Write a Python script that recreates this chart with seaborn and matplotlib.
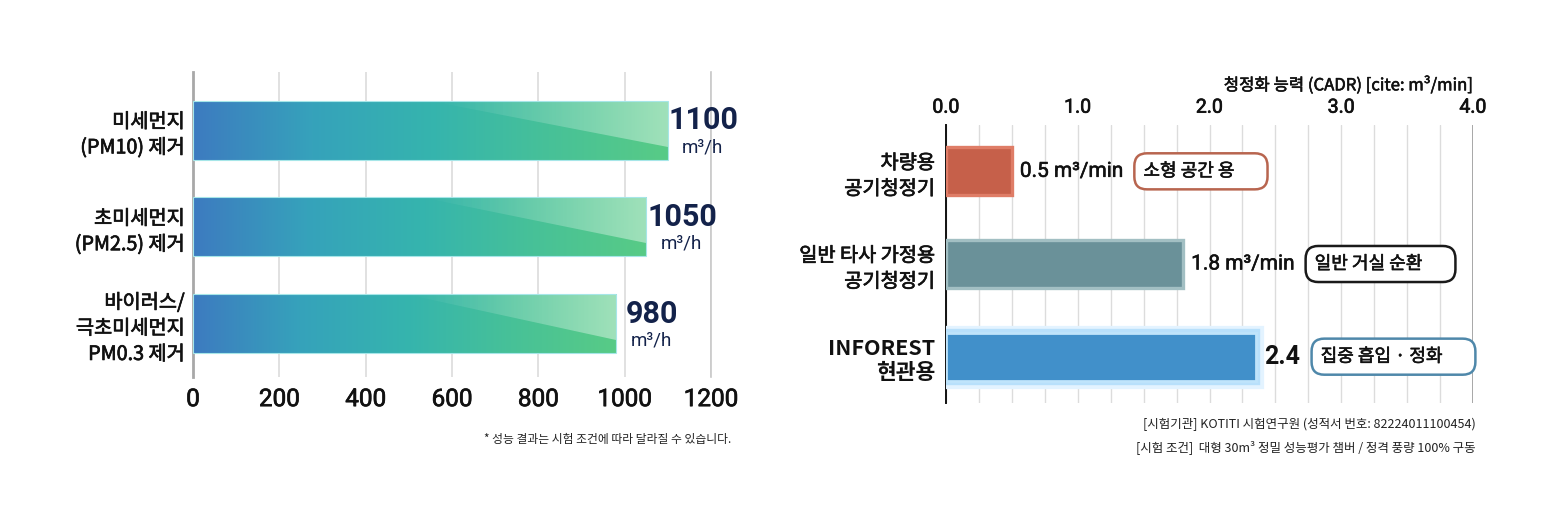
import numpy as np
import pandas as pd
import matplotlib
matplotlib.use("Agg")
import matplotlib.pyplot as plt
import seaborn as sns
from matplotlib.colors import LinearSegmentedColormap
from matplotlib.patches import Polygon
import matplotlib.patheffects as pe

# ---------------- data ----------------
cats_left = ["미세먼지\n(PM10) 제거", "초미세먼지\n(PM2.5) 제거", "바이러스/\n극초미세먼지\nPM0.3 제거"]
vals_left = [1100, 1050, 980]
unit_left = "m³/h"
ticks_left = [0, 200, 400, 600, 800, 1000, 1200]

cats_right = ["차량용\n공기청정기", "일반 타사 가정용\n공기청정기", "INFOREST\n현관용"]
vals_right = [0.5, 1.8, 2.35]
labels_right = ["0.5 m³/min", "1.8 m³/min", "2.4"]
tags_right = ["소형 공간 용", "일반 거실 순환", "집중 흡입 · 정화"]
ticks_right = [0.0, 1.0, 2.0, 3.0, 4.0]
xlabel_right = "청정화 능력 (CADR) [cite: m³/min]"

note_left = "* 성능 결과는 시험 조건에 따라 달라질 수 있습니다."
notes_right = ["[시험기관] KOTITI 시험연구원 (성적서 번호: 82224011100454)",
               "[시험 조건]  대형 30m³ 정밀 성능평가 챔버 / 정격 풍량 100% 구동"]

# ---------------- style ----------------
sns.set_theme(style="white")
KR = ["Noto Sans CJK KR", "DejaVu Sans"]
NUM = ["Roboto", "Noto Sans CJK KR", "DejaVu Sans"]
plt.rcParams["font.family"] = KR
semi = [pe.withStroke(linewidth=0.5, foreground="#111111")]

W, H = 1564, 524
fig = plt.figure(figsize=(W / 100, H / 100), dpi=100)
fig.patch.set_facecolor("white")

# ================= LEFT CHART =================
axL = fig.add_axes([193 / W, 1 - 377 / H, 518 / W, 305 / H])
dfL = pd.DataFrame({"cat": cats_left, "val": vals_left})
sns.barplot(data=dfL, x="val", y="cat", orient="h", width=0.61,
            color="#3fa8b8", saturation=1, ax=axL, zorder=2)
axL.set_xticks(ticks_left)
axL.set_xticklabels([str(t) for t in ticks_left], fontsize=17.5, family=NUM, color="#111")
axL.tick_params(axis="x", length=0, pad=8)
axL.tick_params(axis="y", length=0, pad=6)
for lab in axL.get_yticklabels():
    lab.set_fontsize(14.2)
    lab.set_color("#111")
    lab.set_linespacing(1.3)
    lab.set_path_effects(semi)
for lab in axL.get_xticklabels():
    lab.set_path_effects([pe.withStroke(linewidth=0.5, foreground="#111")])
axL.set_xlabel("")
axL.set_ylabel("")
for s in ["top", "bottom"]:
    axL.spines[s].set_visible(False)
axL.spines["left"].set_color("#a8a8a8")
axL.spines["left"].set_linewidth(2)
axL.spines["right"].set_color("#c8c8c8")
axL.spines["right"].set_linewidth(1.2)
axL.grid(axis="x", color="#d9d9d9", linewidth=1.1, zorder=0)
axL.set_axisbelow(True)

cmap = LinearSegmentedColormap.from_list(
    "bar", ["#3d7bc0", "#36a2bb", "#35b4ae", "#47c198", "#58cb86"])
grad = np.linspace(0, 1, 256).reshape(1, -1)
white_ramp = np.zeros((1, 256, 4))
white_ramp[..., :3] = 1.0
white_ramp[..., 3] = np.linspace(0.0, 0.5, 256) ** 1.2

for p, v in zip(axL.patches, vals_left):
    x0, y0 = p.get_x(), p.get_y()
    w, h = p.get_width(), p.get_height()
    p.set_facecolor("none")
    p.set_edgecolor("#a6e6e8")
    p.set_linewidth(0.8)
    p.set_zorder(4)
    im = axL.imshow(grad, cmap=cmap, aspect="auto",
                    extent=[x0, x0 + w, y0 + h, y0], zorder=3, interpolation="bilinear")
    im.set_clip_path(p)
    tri = Polygon([[x0 + 0.5 * w, y0], [x0 + w, y0], [x0 + w, y0 + 0.78 * h]],
                  closed=True, facecolor="none", edgecolor="none")
    axL.add_patch(tri)
    hi = axL.imshow(white_ramp, aspect="auto",
                    extent=[x0 + 0.5 * w, x0 + w, y0 + h, y0], zorder=3.5,
                    interpolation="bilinear")
    hi.set_clip_path(tri)
    yc = y0 + h / 2
    axL.annotate(f"{v}", xy=(x0 + w, yc), xytext=(36, 10), textcoords="offset pixels",
                 ha="center", va="center", fontsize=22, fontweight="bold",
                 color="#13224a", family=NUM, zorder=6)
    axL.annotate(unit_left, xy=(x0 + w, yc), xytext=(35, -17), textcoords="offset pixels",
                 ha="center", va="center", fontsize=13.5, color="#13224a",
                 family=NUM, zorder=6)
axL.set_xlim(0, 1200)
axL.set_ylim(2.55, -0.6)

fig.text(731 / W, 1 - 439 / H, note_left, ha="right", va="center",
         fontsize=8.5, color="#222")

# ================= RIGHT CHART =================
axR = fig.add_axes([946 / W, 1 - 403 / H, 527 / W, 278 / H])
dfR = pd.DataFrame({"cat": cats_right, "val": vals_right})
fills = ["#c6604a", "#6a9199", "#4190ca"]
edges = ["#df7d67", "#a2bfc3", "#bfe4fb"]
sns.barplot(data=dfR, x="val", y="cat", orient="h", width=0.52, saturation=1,
            hue="cat", palette=fills, legend=False, ax=axR, zorder=3)
axR.set_xlim(0, 4.0)
axR.set_ylim(2.5, -0.5)
axR.xaxis.tick_top()
axR.xaxis.set_label_position("top")
axR.set_xticks(ticks_right)
axR.set_xticklabels([f"{t:.1f}" for t in ticks_right], fontsize=14, family=NUM, color="#111")
axR.set_xticks(np.arange(0, 4.01, 0.25), minor=True)
axR.tick_params(axis="x", which="both", length=0, pad=6)
axR.tick_params(axis="y", length=0, pad=8)
axR.set_xlabel(xlabel_right, loc="right", fontsize=12, color="#111", labelpad=6)
axR.xaxis.label.set_path_effects([pe.withStroke(linewidth=0.4, foreground="#111")])
for lab in axR.get_xticklabels():
    lab.set_path_effects([pe.withStroke(linewidth=0.5, foreground="#111")])
axR.set_ylabel("")
for i, lab in enumerate(axR.get_yticklabels()):
    lab.set_color("#111")
    lab.set_linespacing(1.3)
    if i == 2:
        lab.set_fontsize(15.5)
        lab.set_fontweight("bold")
        lab.set_linespacing(1.2)
    else:
        lab.set_fontsize(14.2)
        lab.set_path_effects(semi)
for s in ["top", "bottom", "right"]:
    axR.spines[s].set_visible(False)
axR.spines["left"].set_color("#111")
axR.spines["left"].set_linewidth(1.4)
axR.grid(axis="x", which="both", color="#dcdcdc", linewidth=1.0, zorder=0)
axR.axvline(4.0, color="#9a9a9a", linewidth=1.2, zorder=1)
axR.set_axisbelow(True)

for i, (p, e) in enumerate(zip(axR.patches, edges)):
    p.set_edgecolor(e)
    p.set_linewidth(2.4 if i < 2 else 2.0)
    if i == 2:
        p.set_path_effects([pe.withStroke(linewidth=11, foreground="#e3f3ff"),
                            pe.withStroke(linewidth=6, foreground="#b8e0fb"),
                            pe.Normal()])

val_texts = []
for i, (p, lab) in enumerate(zip(axR.patches, labels_right)):
    yc = p.get_y() + p.get_height() / 2
    bold = (i == 2)
    t = axR.annotate(lab, xy=(p.get_x() + p.get_width(), yc),
                     xytext=(8 if i < 2 else 9, 0), textcoords="offset pixels",
                     ha="left", va="center",
                     fontsize=18 if bold else 15,
                     fontweight="bold" if bold else "normal",
                     family=NUM, color="#111", zorder=6)
    if not bold:
        t.set_path_effects([pe.withStroke(linewidth=0.4, foreground="#111")])
    val_texts.append(t)

fig.canvas.draw()
renderer = fig.canvas.get_renderer()
box_edges = ["#b8654f", "#1a1a1a", "#4f88aa"]
for t, tag, be in zip(val_texts, tags_right, box_edges):
    bb = t.get_window_extent(renderer)
    x_px = bb.x1 + 20
    y_px = (bb.y0 + bb.y1) / 2
    bt = fig.text(x_px / W, y_px / H, tag + "      ", ha="left", va="center",
                  fontsize=13, color="#111",
                  bbox=dict(boxstyle="round,pad=0.5,rounding_size=0.7",
                            facecolor="white", edgecolor=be, linewidth=1.8))
    bt.set_path_effects([pe.withStroke(linewidth=0.4, foreground="#111")])

fig.text(1476 / W, 1 - 424 / H, notes_right[0], ha="right", va="center",
         fontsize=9, color="#222")
fig.text(1476 / W, 1 - 447 / H, notes_right[1], ha="right", va="center",
         fontsize=9, color="#222")

fig.savefig("out.png", dpi=100, facecolor="white")
